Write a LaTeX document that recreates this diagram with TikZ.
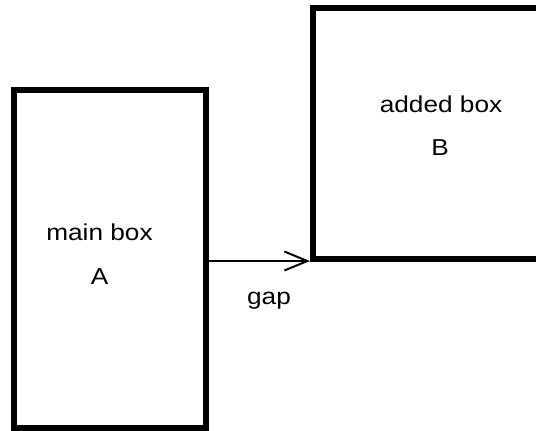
\documentclass[tikz,border=0pt]{standalone}
\usepackage{fontspec}
\setmainfont{Liberation Sans}
\usetikzlibrary{arrows.meta}
\begin{document}
\begin{tikzpicture}[x=1pt,y=1pt,
  bigbox/.style={draw=black, line width=6pt, inner sep=0pt, fill=none},
  lbl/.style={anchor=base, inner sep=0pt, font=\fontsize{23}{27}\selectfont},
  link/.style={line width=1.3pt, -{Straight Barb[length=23pt,width=19pt,line width=2pt]}}]
\useasboundingbox (0,0) rectangle (536,431);
\clip (0,0) rectangle (536,431);
% boxes
\node[bigbox, minimum width=192pt, minimum height=338pt] (A) at (110,172) {};
\node[bigbox, minimum width=250pt, minimum height=251.5pt] (B) at (438,297.25) {};
% labels
\node[lbl] (la1) at (99.5,190) {\scalebox{1.14}[1]{main box}};
\node[lbl] (la2) at (99.5,146.7) {\scalebox{1.14}[1]{A}};
\node[lbl] (lb1) at (441,318.3) {\scalebox{1.14}[1]{added box}};
\node[lbl] (lb2) at (440,275) {\scalebox{1.14}[1]{B}};
\node[lbl] (gap) at (269,126) {\scalebox{1.14}[1]{gap}};
% connector
\coordinate (p) at (206,170);
\draw[link] (A.east |- p) -- (B.west |- p);
\end{tikzpicture}
\end{document}
